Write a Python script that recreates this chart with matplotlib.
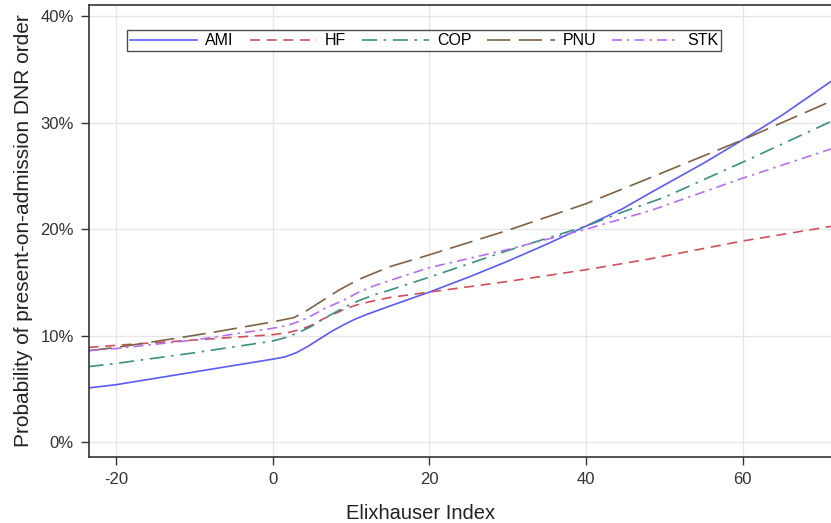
import matplotlib
matplotlib.use("Agg")
import matplotlib.pyplot as plt
from matplotlib.ticker import FuncFormatter

plt.rcParams["font.family"] = ["Liberation Sans", "DejaVu Sans"]
plt.rcParams["axes.unicode_minus"] = False

# ---- data (x = Elixhauser index, y = % probability) ----
x_ami = [-23.5, -20, -10, 0, 1.5, 3, 4.5, 6, 7.5, 9, 10.5, 12, 15, 20, 25, 30, 35, 40, 44.6, 48.4, 55, 60, 65, 71.5]
ami   = [5.1, 5.4, 6.6, 7.8, 8.0, 8.4, 9.0, 9.7, 10.4, 11.0, 11.55, 12.0, 12.8, 14.1, 15.5, 17.0, 18.6, 20.3, 21.9, 23.5, 26.2, 28.4, 30.7, 34.0]

x_hf = [-23.5, -20, -10, 0, 2, 3.6, 5, 6.5, 8, 9.5, 11, 13, 15, 20, 30, 40, 48, 60, 71.5]
hf   = [8.9, 9.1, 9.6, 10.1, 10.3, 10.6, 11.0, 11.6, 12.1, 12.6, 12.95, 13.3, 13.6, 14.1, 15.1, 16.2, 17.2, 18.9, 20.3]

x_cop = [-23.5, -20, -10, 0, 2, 3.6, 5, 6.5, 8, 9.5, 11, 13, 15, 20, 30, 40, 44.6, 50, 60, 71.5]
cop   = [7.1, 7.4, 8.4, 9.5, 9.9, 10.4, 10.9, 11.6, 12.2, 12.8, 13.3, 13.85, 14.3, 15.5, 18.0, 20.3, 21.6, 23.0, 26.3, 30.2]

x_pnu = [-23.5, -20, -12, -7, 0, 2.7, 4, 5.5, 7, 8.5, 10, 11.5, 13, 15, 20, 30, 40, 48.4, 60, 71.5]
pnu   = [8.6, 8.9, 9.8, 10.4, 11.3, 11.7, 12.2, 12.9, 13.6, 14.3, 14.9, 15.45, 15.9, 16.5, 17.6, 19.9, 22.4, 24.9, 28.4, 32.1]

x_stk = [-23.5, -20, -10, 0, 2, 3.6, 5, 6.5, 8, 9.5, 11, 13, 15, 20, 30, 40, 48.4, 60, 71.5]
stk   = [8.6, 8.8, 9.6, 10.7, 11.0, 11.4, 11.9, 12.5, 13.0, 13.5, 14.1, 14.7, 15.2, 16.4, 18.1, 20.0, 21.8, 24.8, 27.6]

series = [
    ("AMI", x_ami, ami, "#5b5bf5", "-"),
    ("HF",  x_hf,  hf,  "#cf4f5c", (0, (6, 4))),
    ("COP", x_cop, cop, "#3a8f80", (0, (9, 4, 1.5, 4))),
    ("PNU", x_pnu, pnu, "#7f6245", (0, (14, 5))),
    ("STK", x_stk, stk, "#b46ef2", (0, (6, 3, 1.5, 3))),
]

fig = plt.figure(figsize=(8.31, 5.23), dpi=100)
ax = fig.add_axes([0.107, 0.127, 0.895, 0.863])

for name, xs, ys, col, ls in series:
    ax.plot(xs, ys, color=col, linestyle=ls, lw=1.2, label=name)

ax.set_xlim(-23.45, 71.5)
ax.set_ylim(-1.35, 41.05)
ax.set_xticks([-20, 0, 20, 40, 60])
ax.set_yticks([0, 10, 20, 30, 40])
ax.yaxis.set_major_formatter(FuncFormatter(lambda v, p: f"{v:.0f}%"))
ax.grid(True, color="#e6e6e6", lw=1)
ax.set_axisbelow(True)

for s in ["left", "bottom", "top"]:
    ax.spines[s].set_color("#333333")
    ax.spines[s].set_linewidth(1.2)
ax.spines["right"].set_visible(False)
ax.tick_params(direction="out", length=6, width=1, colors="#333333", labelsize=12, pad=5)

ax.set_xlabel("Elixhauser Index", fontsize=14.5, color="#222222")
ax.xaxis.set_label_coords(0.446, -0.105)
ax.set_ylabel("Probability of present-on-admission DNR order", fontsize=15, color="#222222", labelpad=5)

leg = ax.legend(loc="upper left", bbox_to_anchor=(0.051, 0.945), ncol=5, frameon=True,
                fontsize=11.5, handlelength=4.2, handletextpad=0.5, columnspacing=1.0,
                borderpad=0.2, fancybox=False, borderaxespad=0)
leg.get_frame().set_edgecolor("#222222")
leg.get_frame().set_linewidth(1)

fig.savefig("out.png", dpi=100)
